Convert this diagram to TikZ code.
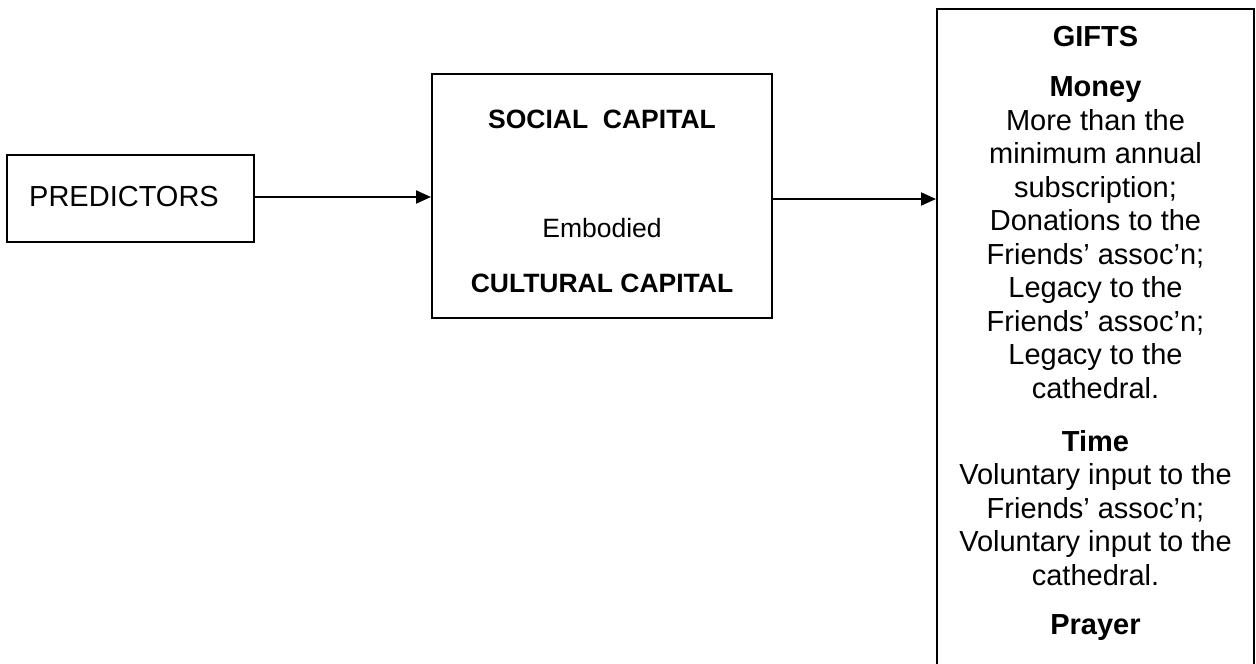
\documentclass[tikz,border=0pt]{standalone}
\usepackage{fontspec}
\setmainfont{Liberation Sans}
\usetikzlibrary{arrows.meta}
\begin{document}
\begin{tikzpicture}[x=1pt,y=-1pt,
  box/.style={draw, line width=2pt, inner sep=0pt},
  big/.style={font=\fontsize{29}{33.5}\selectfont},
  mid/.style={font=\fontsize{26.5}{30.5}\selectfont},
  label/.style={inner sep=0pt, anchor=base},
  para/.style={big, label, align=center},
  conn/.style={line width=2pt, -{Triangle[length=15pt,width=13pt]}}]
\clip (0,0) rectangle (1256,664);

% the three boxes
\node[box, minimum width=247pt, minimum height=87pt] (pred) at (130.5,198.5) {};
\node[box, minimum width=340pt, minimum height=244pt] (soc) at (602,196) {};
\node[box, minimum width=317pt, minimum height=711pt] (gifts) at (1095.5,364.5) {};

% left box
\node[big, label, anchor=base west] (predtext) at (29,206) {PREDICTORS};

% middle box
\node[mid, label] (sctext) at (602,128) {\bfseries SOCIAL\ \ CAPITAL};
\node[mid, label] (embtext) at (602,237) {Embodied};
\node[mid, label] (cctext) at (602,292) {\bfseries CULTURAL CAPITAL};

% right box: multi-line blocks are placed by the baseline of their last line
\node[para] (giftstext) at (1095.5,46) {\bfseries GIFTS};
\node[para] (money) at (1095.5,398) {\textbf{Money}\\More than the\\minimum annual\\subscription;\\Donations to the\\Friends’ assoc’n;\\Legacy to the\\Friends’ assoc’n;\\Legacy to the\\cathedral.};
\node[para] (time) at (1095.5,585) {\textbf{Time}\\Voluntary input to the\\Friends’ assoc’n;\\Voluntary input to the\\cathedral.};
\node[para] (prayer) at (1095.5,634) {\bfseries Prayer};

% connectors
\draw[conn] (pred.east |- 0,197) -- (soc.west |- 0,197);
\draw[conn] (soc.east |- 0,199) -- (gifts.west |- 0,199);
\end{tikzpicture}
\end{document}
